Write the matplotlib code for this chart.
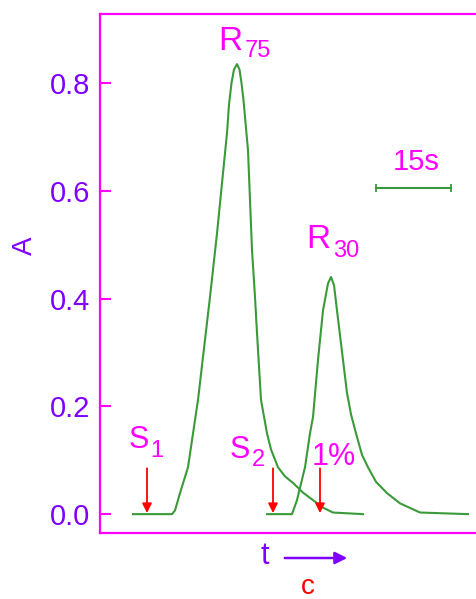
import matplotlib
matplotlib.use("Agg")
import matplotlib.pyplot as plt

# peak R75 (time in s, absorbance)
r75_t = [6.6, 14.4, 15.0, 16.0, 17.6, 19.6, 22.0, 23.4, 24.4, 25.4, 25.8, 26.3, 26.8, 27.4,
         27.9, 28.3, 28.7, 29.6, 30.0, 30.4, 31.0, 31.4, 32.2, 33.4, 34.2, 35.6, 37.0, 38.6,
         40.6, 42.6, 44.6, 46.6, 52.6]
r75_a = [0.0, 0.0, 0.007, 0.039, 0.087, 0.212, 0.403, 0.521, 0.614, 0.707, 0.760, 0.800, 0.825, 0.835,
         0.825, 0.800, 0.768, 0.675, 0.583, 0.490, 0.403, 0.336, 0.212, 0.150, 0.120, 0.087, 0.070, 0.058,
         0.040, 0.026, 0.012, 0.003, 0.0]

# peak R30
r30_t = [33.4, 38.4, 39.4, 41.0, 42.0, 42.6, 43.6, 44.6, 45.6, 46.2, 46.8, 47.4, 48.6,
         49.4, 50.2, 51.2, 52.4, 53.6, 55.2, 57.4, 60.0, 64.0, 73.6]
r30_a = [0.0, 0.0, 0.026, 0.087, 0.150, 0.180, 0.286, 0.378, 0.428, 0.440, 0.425, 0.378, 0.286,
         0.225, 0.185, 0.150, 0.110, 0.087, 0.060, 0.039, 0.020, 0.003, 0.0]

# injection arrows (time in s)
mark_t = [9.4, 34.6, 44.0]

yticks = [0.0, 0.2, 0.4, 0.6, 0.8]

MAG = "#ff00ff"
PUR = "#8000ff"
GRN = "#3a9a3a"
RED = "#ff0000"
FONT = ["Liberation Sans", "DejaVu Sans"]

W, H = 477, 599
fig = plt.figure(figsize=(W / 100, H / 100), dpi=100)
ax = fig.add_axes([100 / W, 1 - 533 / H, 1 - 100 / W, (533 - 14) / H])

ax.plot(r75_t, r75_a, color=GRN, lw=1.5)
ax.plot(r30_t, r30_a, color=GRN, lw=1.5)

ax.set_xlim(0, 75.4)
ax.set_ylim(-0.035, 0.928)

for side in ["left", "top", "bottom"]:
    ax.spines[side].set_color(MAG)
    ax.spines[side].set_linewidth(1.6)
ax.spines["right"].set_visible(False)

ax.set_xticks([])
ax.set_yticks(yticks)
ax.set_yticklabels([f"{v:.1f}" for v in yticks], family=FONT, fontsize=21, color=PUR)
ax.tick_params(axis="y", direction="in", length=8, width=1.5, color=MAG, pad=7)

fig.text(25 / W, 1 - 246 / H, "A", rotation=90, ha="center", va="center",
         color=PUR, family=FONT, fontsize=20)

# peak labels
ax.text(26.0, 0.861, "R", ha="center", va="baseline", color=MAG, family=FONT, fontsize=24)
ax.text(29.0, 0.848, "75", ha="left", va="baseline", color=MAG, family=FONT, fontsize=17)
ax.text(43.6, 0.494, "R", ha="center", va="baseline", color=MAG, family=FONT, fontsize=24)
ax.text(46.6, 0.477, "30", ha="left", va="baseline", color=MAG, family=FONT, fontsize=17)

# time scale bar
ax.plot([55.2, 70.2], [0.605, 0.605], color=GRN, lw=1.5, marker="|", ms=6, mew=1.3)
ax.text(63.2, 0.638, "15s", ha="center", va="baseline", color=MAG, family=FONT, fontsize=21)

# injection arrows
for t in mark_t:
    ax.annotate("", xy=(t, 0.002), xytext=(t, 0.085),
                arrowprops=dict(arrowstyle="-|>", color=RED, lw=1.3,
                                mutation_scale=14, shrinkA=0, shrinkB=0))

ax.text(7.8, 0.122, "S", ha="center", va="baseline", color=MAG, family=FONT, fontsize=22)
ax.text(10.0, 0.106, "1", ha="left", va="baseline", color=MAG, family=FONT, fontsize=17)
ax.text(28.0, 0.104, "S", ha="center", va="baseline", color=MAG, family=FONT, fontsize=22)
ax.text(30.4, 0.089, "2", ha="left", va="baseline", color=MAG, family=FONT, fontsize=17)
ax.text(42.4, 0.092, "1%", ha="left", va="baseline", color=MAG, family=FONT, fontsize=22)

# axis caption below
fig.text(265 / W, 1 - 556 / H, "t", ha="center", va="center", color=PUR, family=FONT, fontsize=22)
fig.add_artist(matplotlib.patches.FancyArrowPatch(
    (282 / W, 1 - 558 / H), (350 / W, 1 - 558 / H), transform=fig.transFigure,
    arrowstyle="-|>", color=PUR, lw=1.8, mutation_scale=18))
fig.text(308 / W, 1 - 587 / H, "c", ha="center", va="center", color=RED, family=FONT, fontsize=20)

fig.savefig("out.png", dpi=100)
